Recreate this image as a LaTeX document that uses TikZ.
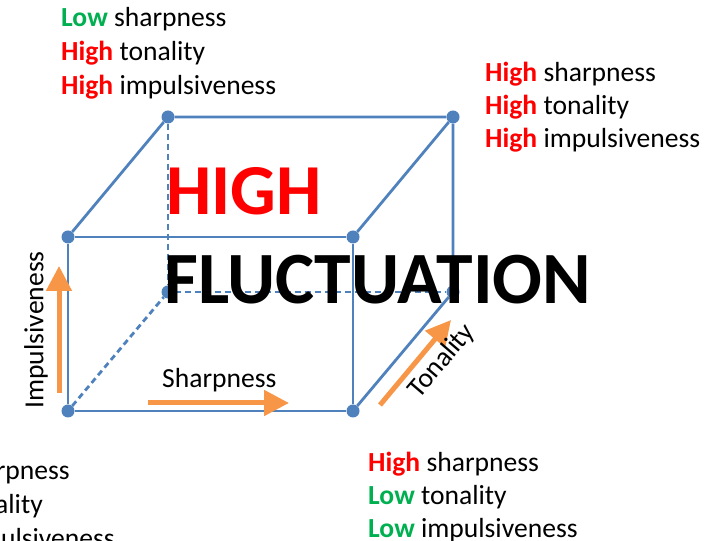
\documentclass[tikz,border=0pt]{standalone}
\usepackage{fontspec}
\setmainfont{Carlito}
\usetikzlibrary{arrows.meta}
\definecolor{cubeblue}{HTML}{4F81BD}
\definecolor{arrorange}{HTML}{F79646}
\definecolor{hired}{HTML}{FF0000}
\definecolor{logreen}{HTML}{00B050}
\tikzset{
  dot/.style={circle,fill=cubeblue,inner sep=0pt,minimum size=13bp},
  edge/.style={draw=cubeblue,line width=2.8bp},
  hidden/.style={edge,dashed,dash pattern=on 6bp off 4bp},
  lbl/.style={inner sep=0pt,font=\fontsize{27.7}{32}\selectfont},
  axis/.style={draw=arrorange,line width=5bp,-{Triangle[length=25bp,width=25bp]}},
  big/.style={inner sep=0pt,anchor=base west,font=\fontsize{72}{80}\selectfont\bfseries}
}
\newcommand{\HI}{\textcolor{hired}{\textbf{High}}}
\newcommand{\LO}{\textcolor{logreen}{\textbf{Low}}}
\begin{document}
\begin{tikzpicture}[x=1bp,y=1bp]
\useasboundingbox (0,0) rectangle (726,541);
\clip (0,0) rectangle (726,541);
% cube vertices
\node[dot] (A) at (68,130) {};
\node[dot] (B) at (353,130) {};
\node[dot] (C) at (68,304) {};
\node[dot] (D) at (353,304) {};
\node[dot] (E) at (168,424) {};
\node[dot] (F) at (453,424) {};
\node[dot] (G) at (168,249) {};
\node[dot] (H) at (453,249) {};
% edges
\draw[edge] (A) -- (B) -- (D) -- (C) -- (A);
\draw[edge] (C) -- (E) -- (F) -- (D);
\draw[edge] (F) -- (H) -- (B);
\draw[hidden] (E) -- (G);
\draw[hidden] (G) -- (H);
\draw[hidden] (A) -- (G);
% axis arrows
\coordinate (v0) at (59,148); \coordinate (v1) at (59,275);
\coordinate (h0) at (148,138); \coordinate (h1) at (289,138);
\coordinate (d0) at (380,136); \coordinate (d1) at (451,221);
\draw[axis] (v0) -- (v1);
\draw[axis] (h0) -- (h1);
\draw[axis] (d0) -- (d1);
\node[lbl,anchor=base west] (sharp) at (162,153) {Sharpness};
\node[lbl,rotate=90] (imp) at (36,211) {Impulsiveness};
\node[lbl,rotate=49.4] (ton) at (442,180) {Tonality};
% big text
\node[big,text=hired] (high) at (166,326) {HIGH};
\node[big,text=black,font=\fontsize{74}{80}\selectfont\bfseries] (fluct) at (164,237) {FLUCTUATION};
% corner labels: top left
\node[lbl,anchor=base west] (tl1) at (61,514) {\LO{} sharpness};
\node[lbl,anchor=base west] (tl2) at (61,480) {\HI{} tonality};
\node[lbl,anchor=base west] (tl3) at (61,446) {\HI{} impulsiveness};
% top right
\node[lbl,anchor=base west] (tr1) at (485,459) {\HI{} sharpness};
\node[lbl,anchor=base west] (tr2) at (485,426) {\HI{} tonality};
\node[lbl,anchor=base west] (tr3) at (485,393) {\HI{} impulsiveness};
% bottom right
\node[lbl,anchor=base west] (br1) at (368,69) {\HI{} sharpness};
\node[lbl,anchor=base west] (br2) at (368,36) {\LO{} tonality};
\node[lbl,anchor=base west] (br3) at (368,3) {\LO{} impulsiveness};
% bottom left (partly outside)
\node[lbl,anchor=base east] (bl1) at (70,61) {\LO{} sharpness};
\node[lbl,anchor=base east] (bl2) at (43,27) {\LO{} tonality};
\node[lbl,anchor=base east] (bl3) at (115,-7) {\LO{} impulsiveness};
\end{tikzpicture}
\end{document}
